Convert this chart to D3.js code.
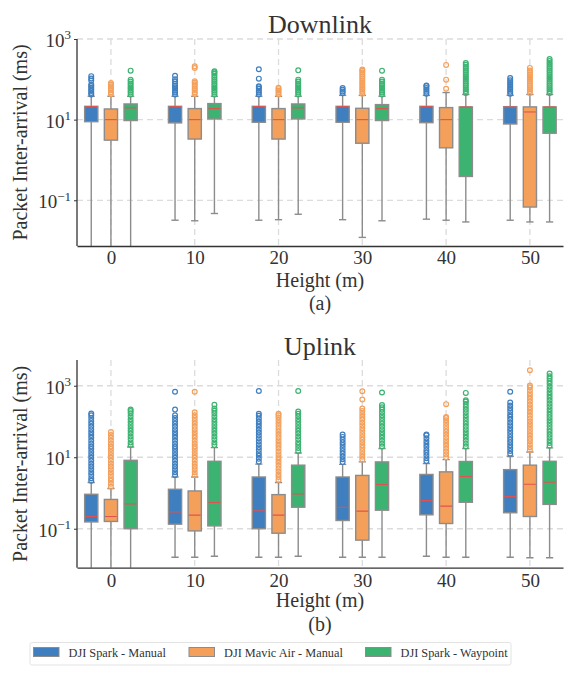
<!DOCTYPE html>
<html><head><meta charset="utf-8">
<script src="https://cdn.jsdelivr.net/npm/d3@7"></script>
<style>
body{margin:0;background:#fff;}
text{font-family:"Liberation Serif","Times New Roman",serif;fill:#333;}
</style>
</head><body>
<svg id="chart" width="576" height="680"></svg>
<script>
// ---------------- DATA ----------------
const heights = [0, 10, 20, 30, 40, 50];
const seriesNames = ["DJI Spark - Manual", "DJI Mavic Air - Manual", "DJI Spark - Waypoint"];
const yTickValues = [0.1, 10, 1000];
const yTickExponents = ["\u22121", "1", "3"];

// box stats per height: [lower whisker, q1, median, q3, upper whisker]  (ms)
const downSparkManual = [[0.0001, 8.9, 21, 21.4, 38], [0.032, 8.3, 21, 21.4, 38], [0.032, 8.6, 21, 21.4, 38], [0.033, 8.6, 21, 21.4, 40], [0.034, 8.4, 21, 21.4, 40], [0.032, 7.8, 20.5, 21, 40]];
const downMavicManual = [[0.0001, 3.1, 10, 18.4, 38], [0.031, 3.3, 10, 18.8, 38], [0.033, 3.3, 10, 18.8, 38], [0.012, 2.6, 10, 19.1, 40], [0.032, 2.0, 10, 19.9, 47], [0.029, 0.068, 15.5, 20.7, 42]];
const downSparkWaypoint = [[0.0001, 9.5, 19.6, 24.5, 38], [0.047, 10.4, 18.8, 25, 38], [0.045, 10.4, 19.6, 24.5, 38], [0.031, 9.5, 18.8, 23.6, 38], [0.029, 0.39, 20.5, 20.7, 42], [0.029, 4.6, 20.5, 20.7, 42]];

const downSparkManualOut = [[42, 46, 51, 56, 62, 68, 74, 93, 105, 120], [42, 47, 52, 58, 64, 70, 78, 88, 100, 123], [42, 47, 52, 58, 64, 67, 104, 177], [45, 50, 55, 61], [44, 49, 55, 61, 68, 70], [44, 49, 55, 61, 68, 76, 85, 95, 108]];
const downMavicManualOut = [[43, 48, 54, 60, 67, 74, 81], [43, 48, 54, 60, 67, 75, 83, 90, 190, 210], [42, 47, 52, 57, 62], [44, 49, 55, 61, 68, 76, 85, 95, 106, 118, 132, 147, 163, 174], [58, 98, 228], [46, 51, 57, 63, 70, 78, 87, 97, 108, 120, 134, 149, 166, 192]];
const downSparkWaypointOut = [[42, 47, 52, 58, 64, 71, 79, 88, 98, 164], [42, 47, 52, 58, 64, 71, 79, 88, 98, 110, 123, 137, 150, 158], [42, 47, 52, 58, 64, 71, 79, 88, 98, 167], [42, 47, 52, 58, 64, 71, 79, 88, 98, 164], [46, 51, 57, 63, 70, 78, 87, 97, 108, 120, 134, 149, 166, 185, 206, 230, 255], [46, 51, 57, 63, 70, 78, 87, 97, 108, 120, 134, 149, 166, 185, 206, 230, 255, 285, 320]];

const upSparkManual = [[0.0001, 0.155, 0.22, 0.92, 1.96], [0.016, 0.134, 0.295, 1.27, 2.8], [0.016, 0.1, 0.32, 2.8, 6.4], [0.016, 0.17, 0.4, 2.8, 6.3], [0.017, 0.245, 0.61, 3.3, 6.7], [0.016, 0.28, 0.79, 4.5, 10.7]];
const upMavicManual = [[0.0001, 0.16, 0.22, 0.66, 1.33], [0.016, 0.087, 0.24, 1.14, 2.8], [0.016, 0.075, 0.24, 0.9, 1.96], [0.016, 0.048, 0.31, 3.1, 7.4], [0.016, 0.14, 0.43, 3.9, 8.6], [0.0155, 0.22, 1.76, 6.0, 14]];
const upSparkWaypoint = [[0.0001, 0.1, 0.49, 8.2, 19.4], [0.017, 0.12, 0.54, 7.7, 18.6], [0.017, 0.4, 0.94, 6.0, 13.2], [0.016, 0.33, 1.72, 7.4, 17.5], [0.016, 0.55, 2.9, 7.6, 17.5], [0.0155, 0.48, 2.0, 7.7, 18.3]];

const upSparkManualOut = [
  [2.2, 2.6, 3.2, 3.8, 4.6, 5.5, 6.6, 8, 9.6, 11.5, 14, 17, 20, 24, 29, 35, 42, 50, 60, 72, 87, 104, 125, 150, 166],
  [3.2, 3.8, 4.6, 5.5, 6.6, 8, 9.6, 11.5, 14, 17, 20, 24, 29, 35, 42, 50, 60, 72, 87, 104, 125, 150, 215, 676],
  [7.5, 9, 11, 13, 16, 19, 23, 28, 34, 41, 49, 59, 71, 85, 100, 120, 145, 165, 710],
  [7.3, 8.8, 10.5, 12.6, 15, 18, 22, 26, 31, 37, 43],
  [7.8, 9.4, 11.3, 13.5, 16, 19.5, 23.5, 28, 34, 41, 43],
  [12.5, 15, 18, 21.5, 26, 31, 37, 45, 54, 65, 78, 94, 113, 135, 160, 195, 235, 280, 340, 676]];
const upMavicManualOut = [
  [1.5, 1.8, 2.2, 2.6, 3.2, 3.8, 4.6, 5.5, 6.6, 8, 9.6, 11.5, 14, 17, 20, 24, 29, 35, 42, 51],
  [3.2, 3.8, 4.6, 5.5, 6.6, 8, 9.6, 11.5, 14, 17, 20, 24, 29, 35, 42, 50, 60, 72, 87, 104, 125, 150, 180, 676],
  [2.3, 2.8, 3.3, 4, 4.8, 5.8, 7, 8.4, 10, 12, 14.5, 17.5, 21, 25, 30, 36, 43, 52, 62, 75, 90, 108, 130, 150, 165],
  [8.6, 10.3, 12.4, 15, 18, 21.5, 26, 31, 37, 45, 54, 65, 78, 94, 113, 135, 162, 195, 230, 410, 700],
  [10, 12, 14.4, 17.3, 21, 25, 30, 36, 43, 52, 62, 75, 90, 108, 125, 134, 305],
  [16, 19, 23, 28, 33, 40, 48, 58, 70, 84, 100, 120, 145, 175, 210, 250, 300, 360, 430, 520, 620, 750, 900, 1020, 2700]];
const upSparkWaypointOut = [
  [22, 26, 32, 38, 46, 55, 66, 80, 96, 115, 140, 170, 195, 215],
  [22, 26, 32, 38, 46, 55, 66, 80, 96, 115, 140, 170, 200, 230, 295],
  [15, 18, 22, 26, 32, 38, 46, 55, 66, 80, 96, 115, 140, 165, 190, 710],
  [20, 24, 29, 35, 42, 50, 60, 72, 87, 104, 125, 150, 180, 215, 250, 290, 645],
  [20, 24, 29, 35, 42, 50, 60, 72, 87, 104, 125, 150, 180, 215, 260, 310, 360, 390, 630],
  [21, 25, 30, 36, 43, 52, 62, 75, 90, 108, 130, 155, 185, 220, 265, 320, 385, 460, 550, 660, 800, 950, 1150, 1350, 1600, 1850, 2200]];

// ---------------- STYLE ----------------
const colors = ["#3f7fbf", "#f5a05a", "#3cb371"];
const edgeColor = "#8c8c8c";
const medianColor = "#e0524f";
const gridColor = "#dcdcdc";
const textColor = "#333";

const svg = d3.select("#chart");
const xLeft = 77, xRight = 563;
const x = d3.scaleLinear().domain([-0.405, 5.395]).range([xLeft, xRight]);
const offsets = [-0.235, 0, 0.235];
const boxW = 13.2;

function panel(cfg) {
  const y = d3.scaleLog().domain(cfg.domain).range([cfg.bottom, cfg.top]);
  const g = svg.append("g");
  const clipId = "clip" + cfg.id;
  svg.append("clipPath").attr("id", clipId).append("rect")
    .attr("x", xLeft).attr("y", cfg.top - 20).attr("width", xRight - xLeft).attr("height", cfg.bottom - cfg.top + 20);

  // grid
  g.selectAll(".hg").data(yTickValues).join("line")
    .attr("x1", xLeft).attr("x2", xRight)
    .attr("y1", d => y(d)).attr("y2", d => y(d))
    .attr("stroke", gridColor).attr("stroke-width", 1.3).attr("stroke-dasharray", "6,4");
  g.selectAll(".vg").data(heights).join("line")
    .attr("x1", (d, i) => x(i)).attr("x2", (d, i) => x(i))
    .attr("y1", cfg.vgTop).attr("y2", cfg.bottom)
    .attr("stroke", gridColor).attr("stroke-width", 1.3).attr("stroke-dasharray", "6,4");

  const marks = g.append("g").attr("clip-path", `url(#${clipId})`);
  cfg.stats.forEach((arr, s) => {
    arr.forEach((st, i) => {
      const cx = x(i + offsets[s]);
      const [lo, q1, med, q3, hi] = st;
      const cap = boxW * 0.55;
      const bx = marks.append("g");
      // whiskers
      bx.append("line").attr("x1", cx).attr("x2", cx).attr("y1", y(q1)).attr("y2", y(lo))
        .attr("stroke", edgeColor).attr("stroke-width", 1.4);
      bx.append("line").attr("x1", cx).attr("x2", cx).attr("y1", y(q3)).attr("y2", y(hi))
        .attr("stroke", edgeColor).attr("stroke-width", 1.4);
      bx.append("line").attr("x1", cx - cap / 2).attr("x2", cx + cap / 2).attr("y1", y(lo)).attr("y2", y(lo))
        .attr("stroke", edgeColor).attr("stroke-width", 1.4);
      bx.append("line").attr("x1", cx - cap / 2).attr("x2", cx + cap / 2).attr("y1", y(hi)).attr("y2", y(hi))
        .attr("stroke", edgeColor).attr("stroke-width", 1.4);
      // box
      bx.append("rect").attr("x", cx - boxW / 2).attr("width", boxW)
        .attr("y", y(q3)).attr("height", Math.max(1, y(q1) - y(q3)))
        .attr("fill", colors[s]).attr("stroke", edgeColor).attr("stroke-width", 1.4);
      // median
      bx.append("line").attr("x1", cx - boxW / 2 + 0.7).attr("x2", cx + boxW / 2 - 0.7)
        .attr("y1", y(med)).attr("y2", y(med)).attr("stroke", medianColor).attr("stroke-width", 1.1);
      // outliers
      bx.selectAll("circle").data(cfg.outliers[s][i]).join("circle")
        .attr("cx", cx).attr("cy", d => y(d)).attr("r", 2.4)
        .attr("fill", "none").attr("stroke", colors[s]).attr("stroke-width", 1.2);
    });
  });

  // axes
  const yAxis = d3.axisLeft(y).tickValues(yTickValues).tickSize(3).tickPadding(5).tickFormat(() => "");
  const ya = g.append("g").attr("transform", `translate(${xLeft},0)`).call(yAxis);
  ya.select(".domain").attr("stroke", textColor).attr("stroke-width", 1.3).attr("d", `M0,${cfg.vgTop}V${cfg.bottom}`);
  ya.selectAll(".tick line").attr("stroke", textColor);
  ya.selectAll(".tick text").each(function (d, i) {
    const t = d3.select(this);
    t.text(null).attr("font-size", 19).attr("fill", textColor).attr("dy", "0.4em").attr("x", -6);
    t.append("tspan").text("10");
    t.append("tspan").text(yTickExponents[i]).attr("font-size", 13).attr("dy", "-0.6em");
  });

  const xAxis = d3.axisBottom(x).tickValues(d3.range(heights.length)).tickSize(0).tickPadding(cfg.tickPad).tickFormat(i => heights[i]);
  const xa = g.append("g").attr("transform", `translate(0,${cfg.bottom})`).call(xAxis);
  xa.select(".domain").attr("stroke", textColor).attr("stroke-width", 1.3);
  xa.selectAll(".tick text").attr("font-size", 19).attr("fill", textColor);

  // labels
  g.append("text").attr("x", (xLeft + xRight) / 2).attr("y", cfg.titleY).attr("text-anchor", "middle")
    .attr("font-size", 26).text(cfg.title);
  g.append("text").attr("transform", `translate(27,${(cfg.top + cfg.bottom) / 2}) rotate(-90)`)
    .attr("text-anchor", "middle").attr("font-size", 20).text("Packet Inter-arrival (ms)");
  g.append("text").attr("x", (xLeft + xRight) / 2).attr("y", cfg.xlabelY).attr("text-anchor", "middle")
    .attr("font-size", 20).text("Height (m)");
  g.append("text").attr("x", (xLeft + xRight) / 2).attr("y", cfg.subY).attr("text-anchor", "middle")
    .attr("font-size", 20).text(cfg.sub);
}

panel({
  id: "a", top: 39, bottom: 246, vgTop: 39, domain: [Math.pow(10, -2.134), 1000],
  title: "Downlink", titleY: 33, tickPad: 5, xlabelY: 287, subY: 310, sub: "(a)",
  stats: [downSparkManual, downMavicManual, downSparkWaypoint],
  outliers: [downSparkManualOut, downMavicManualOut, downSparkWaypointOut]
});
panel({
  id: "b", top: 360, bottom: 567.7, vgTop: 360, domain: [Math.pow(10, -2.09), Math.pow(10, 3.72)],
  title: "Uplink", titleY: 355, tickPad: 6, xlabelY: 607, subY: 631, sub: "(b)",
  stats: [upSparkManual, upMavicManual, upSparkWaypoint],
  outliers: [upSparkManualOut, upMavicManualOut, upSparkWaypointOut]
});

// legend
const lg = svg.append("g");
lg.append("rect").attr("x", 30).attr("y", 642.5).attr("width", 481).attr("height", 22.5).attr("rx", 2)
  .attr("fill", "#fff").attr("stroke", "#e3e3e3").attr("stroke-width", 1);
const legendX = [33.5, 189, 365.5];
seriesNames.forEach((name, s) => {
  lg.append("rect").attr("x", legendX[s]).attr("y", 647.5).attr("width", 25.5).attr("height", 9)
    .attr("fill", colors[s]).attr("stroke", edgeColor).attr("stroke-width", 1);
  lg.append("text").attr("x", legendX[s] + 35).attr("y", 656.8).attr("font-size", 12.3).text(name);
});
</script>
</body></html>
